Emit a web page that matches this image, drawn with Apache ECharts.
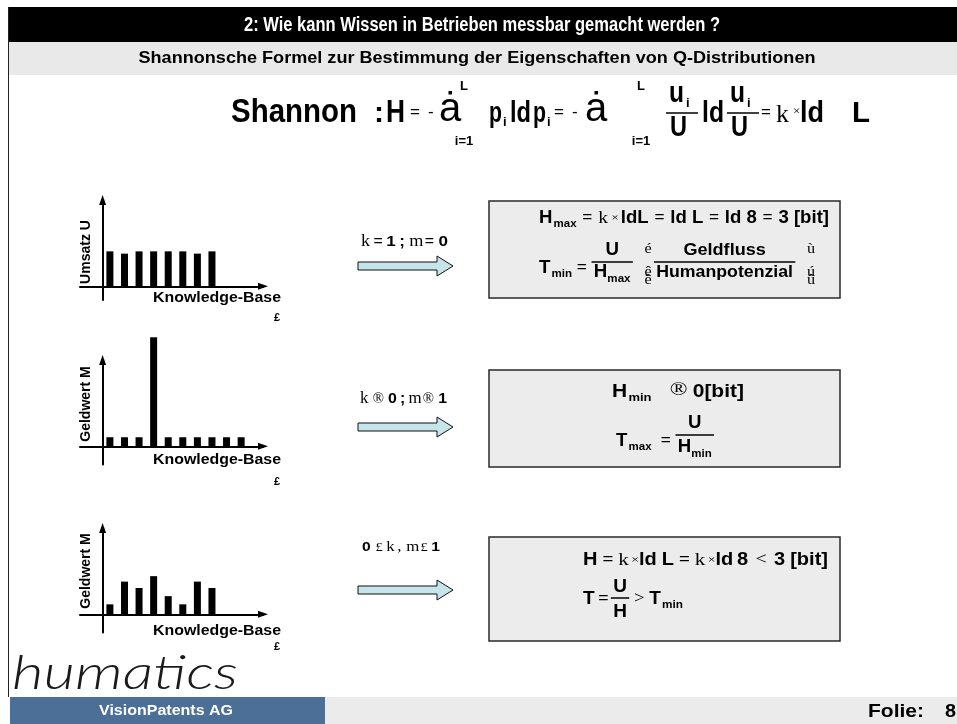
<!DOCTYPE html>
<html>
<head>
<meta charset="utf-8">
<script src="https://cdn.jsdelivr.net/npm/echarts@6/dist/echarts.min.js"></script>
<style>
html,body{margin:0;padding:0;background:#fff;}
#main{width:957px;height:724px;}
</style>
</head>
<body>
<div id="main"></div>
<script>
// ---- data ----------------------------------------------------------
// slot positions of the knowledge items along the Knowledge-Base axis
const slotPositions = [0.5, 1.5, 2.5, 3.5, 4.5, 5.5, 6.5, 7.5, 8.5, 9.5];
// Umsatz U per knowledge item: (almost) uniform distribution
const umsatzValues = [3.85, 3.6, 3.85, 3.85, 3.85, 3.85, 3.6, 3.85];
// Geldwert M: one dominant knowledge item
const geldwertPeakValues = [1, 1, 1, 12, 1, 1, 1, 1, 1, 1];
// Geldwert M: mixed distribution
const geldwertMixedValues = [1.1, 3.6, 2.9, 4.2, 2.0, 1.1, 3.6, 2.9];
const yAxisNames = ['Umsatz U', 'Geldwert M', 'Geldwert M'];
const xAxisName = 'Knowledge-Base';

// ---- text helpers ----------------------------------------------------
const SANS = 'Liberation Sans';
const SERIF = 'Liberation Serif';
const mctx = document.createElement('canvas').getContext('2d');
function B(size, sx) { return {size, weight: 'bold', family: SANS, sx: sx || 1}; }
function R(size, sx) { return {size, weight: 'normal', family: SANS, sx: sx || 1}; }
function S(size, sx) { return {size, weight: 'normal', family: SERIF, sx: sx || 1}; }
function cssFont(f) { return (f.italic ? 'italic ' : '') + f.weight + ' ' + f.size + 'px "' + f.family + '"'; }
function tw(t, f) { mctx.font = cssFont(f); return mctx.measureText(t).width * (f.sx || 1); }
const MID = 0.3465;
function textEl(x, base, t, f, o) {
  o = o || {};
  return {
    type: 'text', x: x, y: base - MID * f.size, z: 30, silent: true,
    scaleX: (f.sx || 1) * (o.s || 1), rotation: o.rot || 0,
    style: {
      text: t, fontSize: f.size, fontFamily: f.family, fontWeight: f.weight,
      fontStyle: f.italic ? 'italic' : 'normal', fill: o.color || '#000',
      textAlign: o.align || 'left', textVerticalAlign: 'middle', verticalAlign: 'middle'
    }
  };
}
// text stretched to a given width
function fitText(x, base, t, f, width, o) {
  const s = width / tw(t, f);
  return textEl(x, base, t, f, Object.assign({}, o, {s: s}));
}
function hline(x1, x2, y, w) {
  return {type: 'line', z: 30, silent: true, shape: {x1: x1, y1: y, x2: x2, y2: y}, style: {stroke: '#000', lineWidth: w || 1.5}};
}
function runWidth(pcs) { return pcs.reduce((a, p) => a + (p.gap || 0) + tw(p.t, p.f), 0); }
function drawRun(out, x, base, pcs, s) {
  let cx = x;
  pcs.forEach(p => {
    cx += (p.gap || 0) * s;
    out.push(textEl(cx, base + (p.dy || 0), p.t, p.f, {s: s}));
    cx += tw(p.t, p.f) * s;
  });
}
function itemWidth(it) {
  if (it.frac) return Math.max(runWidth(it.num), runWidth(it.den)) + 2 * (it.pad || 2);
  if (it.stack) return Math.max.apply(null, it.stack.map(p => tw(p.t, p.f)));
  return tw(it.t, it.f);
}
// lays a formula row out left to right, scaled to the given span
function row(out, x0, base, span, items) {
  const ws = items.map(itemWidth);
  const total = items.reduce((a, it, i) => a + (it.gap || 0) + ws[i], 0);
  const s = span ? span / total : 1;
  let cx = x0;
  items.forEach((it, i) => {
    cx += (it.gap || 0) * s;
    const w = ws[i] * s;
    if (it.frac) {
      out.push(hline(cx, cx + w, base + it.barDy, it.lw));
      const nw = runWidth(it.num) * s, dw = runWidth(it.den) * s;
      drawRun(out, cx + (w - nw) / 2, base + it.numDy, it.num, s);
      drawRun(out, cx + (w - dw) / 2, base + it.denDy, it.den, s);
    } else if (it.stack) {
      it.stack.forEach(p => out.push(textEl(cx, base + (p.dy || 0), p.t, p.f, {s: s})));
    } else {
      out.push(textEl(cx, base + (it.dy || 0), it.t, it.f, {s: s}));
    }
    cx += w;
  });
}

const g = [];
// ---- frame: header, sub header, footer --------------------------------
g.push({type: 'rect', z: 1, silent: true, shape: {x: 8, y: 7, width: 949, height: 35}, style: {fill: '#000'}});
g.push({type: 'rect', z: 1, silent: true, shape: {x: 8, y: 42, width: 949, height: 33}, style: {fill: '#e9e9e9'}});
g.push({type: 'line', z: 2, silent: true, shape: {x1: 8.5, y1: 7, x2: 8.5, y2: 697}, style: {stroke: '#222', lineWidth: 1}});
g.push(fitText(482, 32, '2: Wie kann Wissen in Betrieben messbar gemacht werden ?', B(20), 476, {align: 'center', color: '#fff'}));
g.push(fitText(477, 64, 'Shannonsche Formel zur Bestimmung der Eigenschaften von Q-Distributionen', B(17), 677, {align: 'center'}));

g.push({type: 'rect', z: 1, silent: true, shape: {x: 10, y: 697, width: 315, height: 27}, style: {fill: '#4b6f96'}});
g.push({type: 'rect', z: 1, silent: true, shape: {x: 325, y: 697, width: 632, height: 27}, style: {fill: '#ebebeb'}});
g.push(fitText(166, 716, 'VisionPatents AG', B(14), 134, {align: 'center', color: '#fff'}));
g.push(fitText(868, 718, 'Folie:', B(19), 56));
g.push(fitText(945, 718, '8', B(19), 11));
g.push(fitText(12, 690, 'humatics', {size: 48, weight: 300, family: 'Lato', italic: true}, 226, {color: '#1a1a1a'}));

// ---- Shannon formula (placed piece by piece) ---------------------------
const FB = 124;                       // baseline of the formula
const big = B(30, 0.85), limF = B(13), subF = B(13), eqF = R(17);
g.push(fitText(231, FB, 'Shannon', B(34), 126));
g.push(textEl(374, FB, ':', B(30)));
g.push(fitText(386, FB, 'H', B(32), 19));
g.push(textEl(410, FB - 6, '=', eqF));
g.push(textEl(428, FB - 6, '-', eqF));
[[439, 464], [585, 641]].forEach(p => {
  g.push(textEl(p[0], FB, '\u0227', R(40)));
  g.push(textEl(p[1], FB - 33, 'L', limF, {align: 'center'}));
  g.push(textEl(p[1], FB + 22, 'i=1', limF, {align: 'center'}));
});
g.push(fitText(489, FB, 'p', big, 13));
g.push(textEl(503, FB + 3, 'i', subF));
g.push(fitText(510, FB, 'ld', big, 21));
g.push(fitText(533, FB, 'p', big, 13));
g.push(textEl(547, FB + 3, 'i', subF));
g.push(textEl(554, FB - 6, '=', eqF));
g.push(textEl(572, FB - 6, '-', eqF));
[666, 727].forEach(x0 => {
  g.push(hline(x0, x0 + 32, FB - 11, 1.5));
  g.push(fitText(x0 + 3, FB - 20, 'u', big, 15));
  g.push(textEl(x0 + 20, FB - 16, 'i', subF));
  g.push(fitText(x0 + 4, FB + 14, 'U', big, 17));
});
g.push(fitText(702, FB, 'ld', big, 22));
g.push(textEl(761, FB - 6, '=', eqF));
g.push(textEl(776, FB, 'k', S(26)));
g.push(textEl(793, FB - 8, '\u00d7', S(13)));
g.push(fitText(800, FB, 'ld', big, 24));
g.push(fitText(852, FB, 'L', big, 18));

// ---- arrows and their conditions -----------------------------------
function blockArrow(cy) {
  return {type: 'polygon', z: 5, silent: true,
    shape: {points: [[358, cy - 4], [437, cy - 4], [437, cy - 10], [453, cy], [437, cy + 10], [437, cy + 4], [358, cy + 4]]},
    style: {fill: '#c5e5ea', stroke: '#111', lineWidth: 1}};
}
[266, 427, 590].forEach(cy => g.push(blockArrow(cy)));

const lk = S(16), ln = B(15), lo = R(14);
row(g, 361, 247, 87, [
  {t: 'k', f: lk}, {t: '=', f: lo, gap: 3}, {t: '1', f: ln, gap: 3}, {t: ';', f: ln, gap: 3},
  {t: 'm', f: lk, gap: 4}, {t: '=', f: lo, gap: 1}, {t: '0', f: ln, gap: 4}
]);
row(g, 360, 404, 87, [
  {t: 'k', f: lk}, {t: '\u00ae', f: S(14), gap: 4}, {t: '0', f: ln, gap: 4}, {t: ';', f: ln, gap: 3},
  {t: 'm', f: lk, gap: 3}, {t: '\u00ae', f: S(14), gap: 1}, {t: '1', f: ln, gap: 4}
]);
row(g, 362, 552, 78, [
  {t: '0', f: B(13)}, {t: '\u00a3', f: S(12), gap: 4}, {t: 'k', f: S(14), gap: 3}, {t: ',', f: S(14), gap: 2},
  {t: 'm', f: S(14), gap: 4}, {t: '\u00a3', f: S(12), gap: 1}, {t: '1', f: B(13), gap: 3}
]);

// ---- result boxes ------------------------------------------------------
[[489, 201, 351, 97], [489, 370, 351, 97], [489, 537, 351, 104]].forEach(r => {
  g.push({type: 'rect', z: 3, silent: true, shape: {x: r[0], y: r[1], width: r[2], height: r[3]},
    style: {fill: '#ececec', stroke: '#2a2a2a', lineWidth: 1.5}});
});
const bf = B(19, 0.85), bs = B(10), be = R(15), bk = S(17), bx = S(11);
// box 1
row(g, 539, 224, 290, [
  {t: 'H', f: bf}, {t: 'max', f: bs, gap: 1, dy: 4}, {t: '=', f: be, gap: 5, dy: -1},
  {t: 'k', f: bk, gap: 5}, {t: '\u00d7', f: bx, gap: 3, dy: -2}, {t: 'ldL', f: bf, gap: 2},
  {t: '=', f: be, gap: 5, dy: -1}, {t: 'ld L', f: bf, gap: 5}, {t: '=', f: be, gap: 5, dy: -1},
  {t: 'ld 8', f: bf, gap: 5}, {t: '=', f: be, gap: 5, dy: -1}, {t: '3 [bit]', f: bf, gap: 5}
]);
row(g, 539, 274, 276, [
  {t: 'T', f: bf}, {t: 'min', f: bs, gap: 1, dy: 4}, {t: '=', f: be, gap: 4, dy: -1},
  {frac: true, gap: 4, barDy: -12, numDy: -18, denDy: 4,
    num: [{t: 'U', f: bf}], den: [{t: 'H', f: bf}, {t: 'max', f: bs, gap: 0, dy: 5}]},
  {stack: [{t: '\u00e9', f: S(14), dy: -20}, {t: '\u00ea', f: S(14), dy: 3}, {t: '\u00ea', f: S(14), dy: 11}], gap: 10},
  {frac: true, gap: 2, barDy: -12, numDy: -18, denDy: 4,
    num: [{t: 'Geldfluss', f: B(17, 0.92)}], den: [{t: 'Humanpotenzial', f: B(17, 0.9)}]},
  {stack: [{t: '\u00f9', f: S(14), dy: -20}, {t: '\u00fa', f: S(14), dy: 3}, {t: '\u00fb', f: S(14), dy: 11}], gap: 10}
]);
// box 2
row(g, 612, 398, 132, [
  {t: 'H', f: bf}, {t: 'min', f: bs, gap: 1, dy: 4}, {t: '\u00ae', f: S(18), gap: 14, dy: -1},
  {t: '0[bit]', f: bf, gap: 4}
]);
row(g, 616, 447, 98, [
  {t: 'T', f: bf}, {t: 'max', f: bs, gap: 1, dy: 4}, {t: '=', f: be, gap: 8, dy: -1},
  {frac: true, gap: 4, barDy: -12, numDy: -18, denDy: 6,
    num: [{t: 'U', f: bf}], den: [{t: 'H', f: bf}, {t: 'min', f: bs, gap: 0, dy: 5}]}
]);
// box 3
row(g, 583, 566, 245, [
  {t: 'H', f: bf}, {t: '=', f: be, gap: 4, dy: -1}, {t: 'k', f: bk, gap: 4}, {t: '\u00d7', f: bx, gap: 2, dy: -2},
  {t: 'ld', f: bf, gap: 0}, {t: 'L', f: bf, gap: 4}, {t: '=', f: be, gap: 4, dy: -1},
  {t: 'k', f: bk, gap: 4}, {t: '\u00d7', f: bx, gap: 2, dy: -2}, {t: 'ld', f: bf, gap: 0},
  {t: '8', f: bf, gap: 3}, {t: '<', f: S(16), gap: 6, dy: -1}, {t: '3', f: bf, gap: 6}, {t: '[bit]', f: bf, gap: 4}
]);
row(g, 583, 605, 100, [
  {t: 'T', f: bf}, {t: '=', f: be, gap: 3, dy: -1},
  {frac: true, gap: 2, barDy: -7, numDy: -12, denDy: 13,
    num: [{t: 'U', f: bf}], den: [{t: 'H', f: bf}]},
  {t: '>', f: S(16), gap: 4, dy: -1}, {t: 'T', f: bf, gap: 4}, {t: 'min', f: bs, gap: 1, dy: 4}
]);

// ---- axis captions of the three small charts ---------------------------
[[252, 303, 322], [404, 465, 486], [571, 636, 651]].forEach((p, i) => {
  g.push({type: 'text', x: 86, y: p[0], rotation: Math.PI / 2, z: 30, silent: true,
    style: {text: yAxisNames[i], fontSize: 14, fontWeight: 'bold', fontFamily: SANS, fill: '#000',
      textAlign: 'center', textVerticalAlign: 'middle', verticalAlign: 'middle'}});
  g.push(fitText(281, p[1], xAxisName, B(15), 128, {align: 'right'}));
  g.push(textEl(277, p[2], '\u00a3', B(11), {align: 'center'}));
});

// ---- the three distributions -----------------------------------------
const chartGeom = [
  {top: 200, height: 100, min: -1.5, max: 9.5, values: umsatzValues},
  {top: 360, height: 104.5, min: -2, max: 9.5, values: geldwertPeakValues},
  {top: 528, height: 104.5, min: -2, max: 9.5, values: geldwertMixedValues}
];
const axisLine = {onZero: true, symbol: ['none', 'triangle'], symbolSize: [7, 10], lineStyle: {color: '#000', width: 2}};
const hidden = {axisTick: {show: false}, axisLabel: {show: false}, splitLine: {show: false}};

const option = {
  animation: false,
  backgroundColor: '#fff',
  grid: chartGeom.map(c => ({left: 80, width: 183, top: c.top, height: c.height})),
  xAxis: chartGeom.map((c, i) => Object.assign({type: 'value', gridIndex: i, min: -1.55, max: 11, axisLine: axisLine}, hidden)),
  yAxis: chartGeom.map((c, i) => Object.assign({type: 'value', gridIndex: i, min: c.min, max: c.max, axisLine: axisLine}, hidden)),
  series: chartGeom.map((c, i) => ({
    type: 'bar', xAxisIndex: i, yAxisIndex: i, barWidth: 7, clip: false, silent: true,
    itemStyle: {color: '#000'},
    data: c.values.map((v, j) => [slotPositions[j], v])
  })),
  graphic: {elements: g}
};
const chart = echarts.init(document.getElementById('main'), null, {renderer: 'canvas'});
chart.setOption(option);
</script>
</body>
</html>
